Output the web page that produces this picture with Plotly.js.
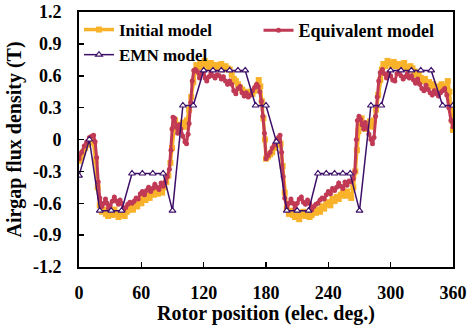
<!DOCTYPE html>
<html>
<head>
<meta charset="utf-8">
<script src="https://cdn.plot.ly/plotly-3.0.1.min.js"></script>
<style>html,body{margin:0;padding:0;background:#fff;}#chart{width:471px;height:325px;}</style>
</head>
<body>
<div id="chart"></div>
<script>
// Initial model (orange)
const initialX = [0,2,4,6,8,10,12,14,16,18,20,22,24,26,28,30,32,34,36,38,40,42,44,46,48,50,52,54,56,58,60,62,64,66,68,70,72,74,76,78,80,82,84,86,88,89.5,91,92.5,94,96,98,100,102,104,106,108,110,111.5,113,115,117,119,121,123,125,127,129,131,133,135,137,139,141,143,145,147,149,151,153,155,157,159,161,163,165,167,169,171,173,174.5,176,177.5,179,
180,182,184,186,188,190,192,194,196,198,200,202,204,206,208,210,212,214,216,218,220,222,224,226,228,230,232,234,236,238,240,242,244,246,248,250,252,254,256,258,260,262,264,266,267.5,269,270.5,272,274,276,278,280,282,284,286,288,290,291.5,293,295,297,299,301,303,305,307,309,311,313,315,317,319,321,323,325,327,329,331,333,335,337,339,341,343,345,347,349,351,353,355,356.5,358,359,360];
const initialY = [-0.20,-0.17,-0.12,-0.08,-0.05,-0.02,0.00,-0.03,-0.20,-0.45,-0.62,-0.68,-0.66,-0.70,-0.72,-0.68,-0.71,-0.66,-0.70,-0.73,-0.69,-0.71,-0.72,-0.68,-0.66,-0.64,-0.66,-0.61,-0.63,-0.58,-0.60,-0.55,-0.57,-0.53,-0.55,-0.50,-0.52,-0.49,-0.51,-0.47,-0.50,-0.45,-0.40,-0.34,-0.22,-0.08,0.10,0.18,0.14,0.10,0.12,0.16,0.12,0.18,0.28,0.40,0.54,0.64,0.70,0.68,0.72,0.69,0.74,0.71,0.68,0.72,0.70,0.67,0.70,0.68,0.71,0.66,0.69,0.67,0.66,0.61,0.57,0.55,0.52,0.49,0.47,0.45,0.44,0.42,0.45,0.43,0.46,0.50,0.56,0.50,0.36,0.20,0.00,
-0.18,-0.16,-0.14,-0.12,-0.08,-0.05,-0.02,-0.04,-0.25,-0.50,-0.65,-0.70,-0.67,-0.71,-0.73,-0.70,-0.75,-0.71,-0.68,-0.72,-0.70,-0.73,-0.71,-0.68,-0.69,-0.66,-0.68,-0.63,-0.65,-0.61,-0.59,-0.62,-0.56,-0.58,-0.54,-0.56,-0.52,-0.50,-0.53,-0.49,-0.52,-0.55,-0.45,-0.30,-0.10,0.08,0.16,0.20,0.14,0.10,0.13,0.17,0.12,0.18,0.28,0.42,0.56,0.66,0.71,0.69,0.74,0.72,0.70,0.73,0.69,0.71,0.68,0.70,0.72,0.68,0.66,0.69,0.67,0.64,0.61,0.62,0.58,0.55,0.57,0.52,0.54,0.50,0.52,0.48,0.50,0.47,0.52,0.50,0.48,0.55,0.45,0.28,0.18,0.09];

// Equivalent model (crimson)
const equivX = [0,2.5,5,7.5,10,12,14,15.5,17,18.5,20,22,24,25.5,27,28.5,30,32,34,36,38,39.5,41,43,45,47,49,51,53,55,57,59,61,63,65,67,69,71,73,75,77,79,81,83,85,87,88.5,89.5,90.5,92,93.5,95,96.5,98,100,102,103.5,105,106,107.5,109,110.5,112,114,116,118,120,121.5,123,125,127,129,131,133,135,137,139,141,143,145,147,149,151,153,155,157,159,161,163,165,167,169,171,172.5,174,175.5,177,178.5,
180,182,184,186,188,190,192,193.5,195,196.5,198,200,202,204,206,208,210,212,214,216,218,220,222,224,226,228,230,232,234,236,238,240,242,244,246,248,250,252,254,256,258,260,262,264,265.5,267,268,269.5,271,272.5,274,275.5,277,279,281,282.5,284,285.5,287,288.5,290,292,294,296,298,300,302,304,306,308,310,312,314,316,318,320,322,324,326,328,330,332,334,336,338,340,342,344,346,348,350,352,354,356,358,360];
const equivY = [-0.18,-0.12,-0.06,-0.02,0.02,0.03,0.04,-0.02,-0.17,-0.40,-0.55,-0.63,-0.60,-0.56,-0.60,-0.65,-0.62,-0.58,-0.54,-0.58,-0.61,-0.57,-0.60,-0.66,-0.64,-0.61,-0.59,-0.60,-0.58,-0.55,-0.56,-0.51,-0.49,-0.52,-0.48,-0.45,-0.49,-0.46,-0.42,-0.45,-0.47,-0.41,-0.44,-0.40,-0.35,-0.28,-0.10,0.10,0.21,0.20,0.12,0.06,0.14,0.10,0.03,-0.02,-0.04,0.05,0.15,0.35,0.55,0.65,0.66,0.64,0.58,0.62,0.64,0.58,0.55,0.59,0.63,0.60,0.58,0.61,0.60,0.57,0.59,0.55,0.52,0.55,0.52,0.46,0.43,0.48,0.50,0.44,0.41,0.44,0.40,0.42,0.46,0.49,0.52,0.50,0.45,0.36,0.22,0.06,
-0.18,-0.15,-0.12,-0.08,-0.05,-0.01,0.02,0.04,-0.12,-0.35,-0.55,-0.65,-0.60,-0.56,-0.60,-0.65,-0.60,-0.56,-0.54,-0.59,-0.61,-0.57,-0.60,-0.66,-0.63,-0.61,-0.60,-0.57,-0.55,-0.56,-0.52,-0.49,-0.51,-0.46,-0.48,-0.45,-0.41,-0.44,-0.46,-0.40,-0.43,-0.39,-0.40,-0.37,-0.30,0.00,0.18,0.22,0.19,0.14,0.10,0.16,0.12,0.05,0.00,-0.04,0.02,0.22,0.40,0.55,0.63,0.66,0.62,0.58,0.63,0.60,0.56,0.55,0.62,0.64,0.60,0.57,0.59,0.62,0.58,0.60,0.56,0.53,0.57,0.52,0.48,0.46,0.51,0.47,0.44,0.42,0.46,0.43,0.41,0.44,0.46,0.48,0.42,0.30,0.18,0.12];

// EMN model (purple)
const emnX = [0,10,20,31,41,51,61,71,81,90,100,110,120,129,137,145,153,160,170,180,190,200,210,221,230,238,246,254,261,270,281,291,300,310,320,329,339,350,360];
const emnY = [-0.34,0.00,-0.67,-0.67,-0.67,-0.32,-0.32,-0.32,-0.32,-0.67,0.32,0.32,0.65,0.65,0.65,0.65,0.65,0.65,0.32,0.32,-0.02,-0.67,-0.67,-0.67,-0.32,-0.32,-0.32,-0.32,-0.32,-0.67,0.32,0.32,0.65,0.65,0.65,0.65,0.65,0.32,0.32];

const xTicks = [0,60,120,180,240,300,360];
const yTicks = [-1.2,-0.9,-0.6,-0.3,0,0.3,0.6,0.9,1.2];
const yTickText = ['-1.2','-0.9','-0.6','-0.3','0','0.3','0.6','0.9','1.2'];

const FONT = 'Liberation Serif, Times New Roman, serif';
const traces = [
  {x: initialX, y: initialY, name: 'Initial model', type: 'scatter', mode: 'lines+markers',
   line: {color: '#F9B32A', width: 3.5}, marker: {symbol: 'square', size: 6, color: '#F9B32A'}, legend: 'legend'},
  {x: equivX, y: equivY, name: 'Equivalent model', type: 'scatter', mode: 'lines+markers',
   line: {color: '#C13A55', width: 3}, marker: {symbol: 'circle', size: 5, color: '#C13A55'}, legend: 'legend2'},
  {x: emnX, y: emnY, name: 'EMN model', type: 'scatter', mode: 'lines+markers',
   line: {color: '#3D0F68', width: 1.5}, marker: {symbol: 'triangle-up', size: 6, color: '#ffffff', line: {color: '#3D0F68', width: 1.2}}, legend: 'legend'}
];

const layout = {
  width: 471, height: 325,
  margin: {l: 79, r: 18, t: 12, b: 58},
  paper_bgcolor: '#fff', plot_bgcolor: '#fff',
  font: {family: FONT, size: 17, color: '#000', weight: 'bold'},
  showlegend: true,
  xaxis: {
    range: [0, 360], tickvals: xTicks, ticktext: xTicks.map(String),
    ticks: 'inside', ticklen: 5, tickwidth: 1.5, tickcolor: '#000',
    showline: true, linecolor: '#000', linewidth: 2, mirror: true, showgrid: false, zeroline: false,
    tickfont: {family: FONT, size: 18, weight: 'bold'}, ticklabelstandoff: 8,
    title: {text: 'Rotor position (elec. deg.)', font: {family: FONT, size: 20, weight: 'bold'}, standoff: 3}
  },
  yaxis: {
    range: [-1.2, 1.2], tickvals: yTicks, ticktext: yTickText,
    ticks: 'inside', ticklen: 5, tickwidth: 1.5, tickcolor: '#000',
    showline: true, linecolor: '#000', linewidth: 2, mirror: true, showgrid: false, zeroline: false,
    tickfont: {family: FONT, size: 18, weight: 'bold'}, ticklabelstandoff: 12,
    title: {text: 'Airgap flux density (T)', font: {family: FONT, size: 20, weight: 'bold'}, standoff: 6}
  },
  legend: {x: 0.0, y: 1.0, xanchor: 'left', yanchor: 'top', bgcolor: 'rgba(0,0,0,0)',
    font: {family: FONT, size: 17, weight: 'bold'}, tracegroupgap: 0, itemwidth: 30},
  legend2: {x: 0.48, y: 1.0, xanchor: 'left', yanchor: 'top', bgcolor: 'rgba(0,0,0,0)',
    font: {family: FONT, size: 18, weight: 'bold'}, itemwidth: 30}
};

Plotly.newPlot('chart', traces, layout, {displayModeBar: false, staticPlot: true});
</script>
</body>
</html>
